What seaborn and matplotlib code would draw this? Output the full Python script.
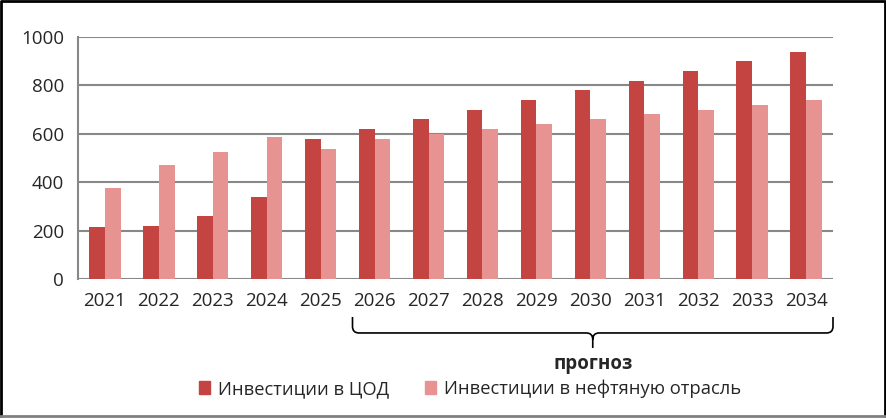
import matplotlib
matplotlib.use("Agg")
import matplotlib.pyplot as plt
import seaborn as sns
import pandas as pd
from matplotlib.path import Path
from matplotlib.patches import PathPatch
from matplotlib.lines import Line2D
import matplotlib.transforms as mtransforms

# Data
years = [str(y) for y in range(2021, 2035)]
dc_invest = [215, 220, 260, 340, 578, 620, 660, 700, 740, 780, 820, 860, 900, 940]
oil_invest = [376, 472, 525, 586, 537, 580, 600, 620, 640, 660, 680, 700, 720, 740]
series_names = ["Инвестиции в ЦОД", "Инвестиции в нефтяную отрасль"]
forecast_start = "2026"

colors = ["#C44441", "#E69392"]

sns.set_style("white")
plt.rcParams["font.family"] = ["Open Sans", "DejaVu Sans"]

df = pd.DataFrame({
    "year": years * 2,
    "value": dc_invest + oil_invest,
    "series": [series_names[0]] * len(years) + [series_names[1]] * len(years),
})

fig = plt.figure(figsize=(8.86, 4.19), dpi=100)
ax = fig.add_axes([78 / 886, 1 - 279 / 419, 755 / 886, 242 / 419])

sns.barplot(data=df, x="year", y="value", hue="series", palette=colors,
            width=0.58, gap=0, ax=ax, legend=False, saturation=1, linewidth=0)

ax.set_xlim(-0.5, len(years) - 0.5)
ax.set_ylim(0, 1000)
ax.set_yticks([0, 200, 400, 600, 800, 1000])
ax.set_xlabel("")
ax.set_ylabel("")
ax.yaxis.grid(True, color="#888888", linewidth=1.5)
ax.set_axisbelow(True)
for s in ["top", "right", "bottom"]:
    ax.spines[s].set_visible(False)
ax.spines["left"].set_color("#888888")
ax.spines["left"].set_linewidth(1.5)
ax.tick_params(axis="y", length=6, width=1.5, color="#888888", labelsize=13.5, pad=4)
ax.tick_params(axis="x", length=0, labelsize=13.5, pad=9)

# forecast bracket
trans = mtransforms.blended_transform_factory(ax.transData, ax.transAxes)
i0 = years.index(forecast_start)
xl = i0 - 0.41
xr = len(years) - 0.5
xc = (xl + xr) / 2
yt, ym, yb = -0.157, -0.223, -0.285
rx, ry = 0.12, 0.027
verts = [
    (xl, yt), (xl, ym + ry), (xl, ym), (xl + rx, ym),
    (xc - rx, ym), (xc, ym), (xc, ym - ry), (xc, yb),
    (xc, ym - ry), (xc, ym), (xc + rx, ym),
    (xr - rx, ym), (xr, ym), (xr, ym + ry), (xr, yt),
]
codes = [
    Path.MOVETO, Path.LINETO, Path.CURVE3, Path.CURVE3,
    Path.LINETO, Path.CURVE3, Path.CURVE3, Path.LINETO,
    Path.MOVETO, Path.CURVE3, Path.CURVE3,
    Path.LINETO, Path.CURVE3, Path.CURVE3, Path.LINETO,
]
ax.add_patch(PathPatch(Path(verts, codes), transform=trans, fill=False,
                       edgecolor="black", linewidth=1.2, clip_on=False))
ax.text(xc, -0.35, "прогноз", transform=trans, ha="center", va="center",
        fontsize=13.5, fontweight="bold")

# legend
handles = [plt.Rectangle((0, 0), 1, 1, color=c) for c in colors]
fig.legend(handles, series_names, loc="center", bbox_to_anchor=(470 / 886, 1 - 389 / 419),
           ncol=2, frameon=False, fontsize=13.2, handlelength=0.6, handleheight=0.7,
           handletextpad=0.4, columnspacing=2.0)

# figure frame
fig.add_artist(Line2D([0.001, 0.001, 0.999, 0.999], [0.006, 0.998, 0.998, 0.006],
                      transform=fig.transFigure, color="black", linewidth=2))
fig.add_artist(Line2D([0.0, 1.0], [0.006, 0.006], transform=fig.transFigure,
                      color="#808080", linewidth=2))

fig.savefig("out.png", dpi=100)
